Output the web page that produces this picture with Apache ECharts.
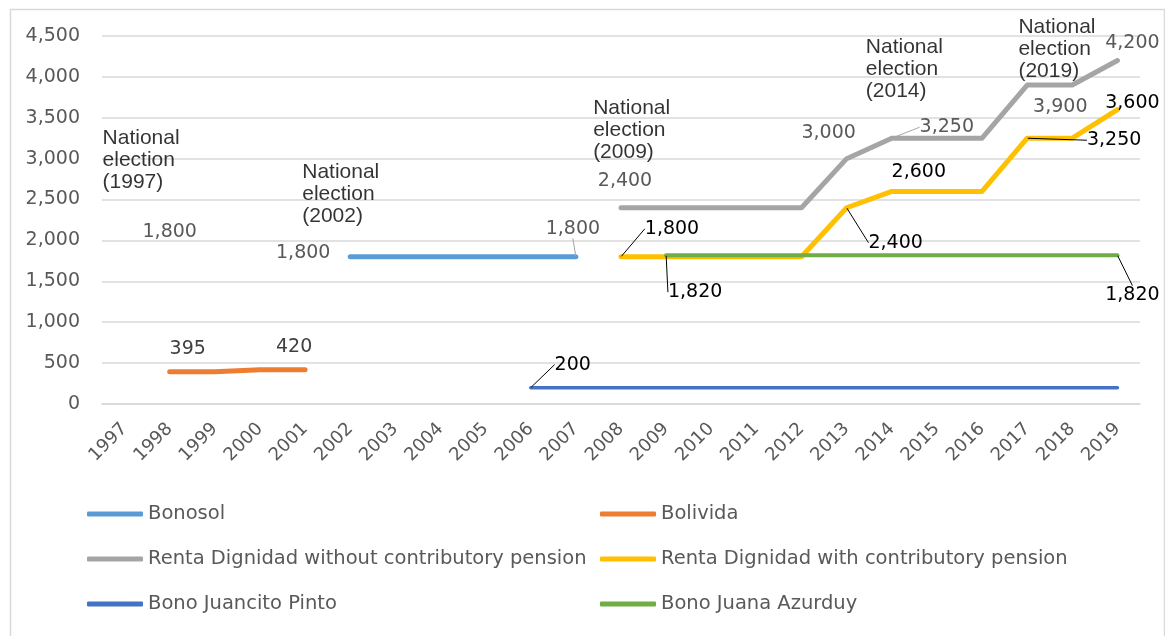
<!DOCTYPE html>
<html>
<head>
<meta charset="utf-8">
<script src="https://cdn.jsdelivr.net/npm/echarts@6/dist/echarts.min.js"></script>
<style>
  html, body { margin: 0; padding: 0; background: #fff; }
  #main { width: 1165px; height: 636px; }
</style>
</head>
<body>
<div id="main"></div>
<script>
// years on the x axis
var years = ['1997','1998','1999','2000','2001','2002','2003','2004','2005','2006','2007','2008',
             '2009','2010','2011','2012','2013','2014','2015','2016','2017','2018','2019'];

// series values (Bs per year), null where the programme did not exist
var bonosol      = [null,null,null,null,null,1800,1800,1800,1800,1800,1800,null,null,null,null,null,null,null,null,null,null,null,null];
var bolivida     = [null,395,395,420,420,null,null,null,null,null,null,null,null,null,null,null,null,null,null,null,null,null,null];
var rentaWithout = [null,null,null,null,null,null,null,null,null,null,null,2400,2400,2400,2400,2400,3000,3250,3250,3250,3900,3900,4200];
var rentaWith    = [null,null,null,null,null,null,null,null,null,null,null,1800,1800,1800,1800,1800,2400,2600,2600,2600,3250,3250,3600];
var juancito     = [null,null,null,null,null,null,null,null,null,200,200,200,200,200,200,200,200,200,200,200,200,200,200];
var juana        = [null,null,null,null,null,null,null,null,null,null,null,null,1820,1820,1820,1820,1820,1820,1820,1820,1820,1820,1820];

var seriesNames = ['Bonosol', 'Bolivida', 'Renta Dignidad without contributory pension',
                   'Renta Dignidad with contributory pension', 'Bono Juancito Pinto', 'Bono Juana Azurduy'];
var seriesValues = [bonosol, bolivida, rentaWithout, rentaWith, juancito, juana];

// election annotations
var electionYears  = ['1997', '2002', '2009', '2014', '2019'];
var electionLevels = [3380, 2965, 3748, 4500, 4500];

// lone "1,800" label drawn over 1998
var strayLabel = ['1998', 1800];

var GRAY = '#595959';
var BLACK = '#000000';
var colors = ['#5b9bd5', '#ed7d31', '#a5a5a5', '#ffc000', '#4472c4', '#70ad47'];
var widths = [5, 5, 5, 5, 3.5, 4];
var FONT = 'DejaVu Sans';

// where each data label sits (shift from its point), s = series, i = index
var labelSpecs = [
    {s: 1, i: 1,  dx: 18,  dy: -23, c: '#404040'},
    {s: 1, i: 4,  dx: -11, dy: -23, c: '#404040'},
    {s: 0, i: 5,  dx: -47, dy: -4,  c: GRAY},
    {s: 0, i: 10, dx: -3,  dy: -28, c: GRAY, line: true},
    {s: 4, i: 9,  dx: 42,  dy: -23, c: BLACK, line: true},
    {s: 2, i: 11, dx: 4,   dy: -27, c: GRAY},
    {s: 3, i: 11, dx: 51,  dy: -28, c: BLACK, line: true},
    {s: 5, i: 12, dx: 29,  dy: 37,  c: BLACK, line: true},
    {s: 2, i: 16, dx: -18, dy: -26, c: GRAY},
    {s: 2, i: 17, dx: 55,  dy: -11, c: GRAY, line: true},
    {s: 3, i: 17, dx: 27,  dy: -19, c: BLACK},
    {s: 3, i: 16, dx: 49,  dy: 35,  c: BLACK, line: true},
    {s: 2, i: 21, dx: -12, dy: 22,  c: GRAY},
    {s: 2, i: 22, dx: 15,  dy: -17, c: GRAY},
    {s: 3, i: 22, dx: 15,  dy: -7,  c: BLACK},
    {s: 3, i: 20, dx: 87,  dy: 2,   c: BLACK, line: true},
    {s: 5, i: 22, dx: 15,  dy: 40,  c: BLACK, line: true}
];

// offsets of the election texts (top-left corner from the point)
var electionOffsets = [[-22, 0], [-48, 0], [-73, 0], [-26, 0], [-99, -20]];

function fmt(v) {
    return Number(v).toLocaleString('en-US');
}

function findSpec(s, i) {
    for (var k = 0; k < labelSpecs.length; k++) {
        if (labelSpecs[k].s === s && labelSpecs[k].i === i) return labelSpecs[k];
    }
    return null;
}

function buildData(s) {
    var out = [];
    for (var i = 0; i < seriesValues[s].length; i++) {
        var item = {value: seriesValues[s][i]};
        var sp = findSpec(s, i);
        if (sp) {
            item.label = {
                show: true, position: 'inside',
                color: sp.c, fontFamily: FONT, fontSize: 19,
                formatter: function (p) { return fmt(p.value); }
            };
            item.labelLine = {show: !!sp.line, lineStyle: {color: sp.c === GRAY ? '#a6a6a6' : '#000', width: 1}};
        }
        out.push(item);
    }
    return out;
}

function layoutFor(s) {
    return function (params) {
        var sp = findSpec(s, params.dataIndex);
        return sp ? {dx: sp.dx, dy: sp.dy} : {};
    };
}

var series = [];
for (var s = 0; s < seriesNames.length; s++) {
    series.push({
        name: seriesNames[s],
        type: 'line',
        data: buildData(s),
        symbol: 'circle',
        symbolSize: 1,
        showSymbol: true,
        itemStyle: {color: colors[s]},
        lineStyle: {color: colors[s], width: widths[s], cap: 'round', join: 'round'},
        label: {show: false},
        labelLayout: layoutFor(s),
        emphasis: {disabled: true},
        z: 2 + s
    });
}

// stray 1,800 label on the Bonosol series
series[0].markPoint = {
    symbol: 'circle', symbolSize: 0, silent: true,
    data: [{coord: strayLabel, value: strayLabel[1]}],
    label: {show: true, position: 'inside', offset: [0, -25], color: GRAY, fontFamily: FONT, fontSize: 19,
            formatter: function (p) { return fmt(p.value); }}
};

// election notes
var electionData = [];
for (var e = 0; e < electionYears.length; e++) {
    electionData.push({
        value: [electionYears[e], electionLevels[e]],
        label: {offset: electionOffsets[e], formatter: 'National\nelection\n(' + electionYears[e] + ')'}
    });
}
series.push({
    name: 'elections',
    type: 'scatter',
    symbolSize: 0,
    clip: false,
    silent: true,
    data: electionData,
    label: {
        show: true, position: 'inside', align: 'left', verticalAlign: 'top',
        color: '#000', fontFamily: 'Liberation Sans', fontSize: 21, lineHeight: 22
    },
    z: 10
});

var legendText = {color: GRAY, fontFamily: FONT, fontSize: 19.5, lineHeight: 24};

var myChart = echarts.init(document.getElementById('main'));
myChart.setOption({
    animation: false,
    backgroundColor: '#fff',
    graphic: [{
        type: 'rect', left: 8, top: 7, silent: true,
        shape: {width: 1154, height: 660},
        style: {fill: 'none', stroke: '#d9d9d9', lineWidth: 1.5}
    }],
    grid: {left: 102, right: 25, top: 36, bottom: 232},
    legend: [{
        data: [seriesNames[0], seriesNames[2], seriesNames[4]],
        orient: 'vertical', left: 87, top: 502, padding: 0,
        icon: 'roundRect', itemWidth: 56, itemHeight: 5, itemGap: 21,
        textStyle: legendText
    }, {
        data: [seriesNames[1], seriesNames[3], seriesNames[5]],
        orient: 'vertical', left: 600, top: 502, padding: 0,
        icon: 'roundRect', itemWidth: 56, itemHeight: 5, itemGap: 21,
        textStyle: legendText
    }],
    xAxis: {
        type: 'category',
        data: years,
        axisLine: {lineStyle: {color: '#d9d9d9', width: 1.5}},
        axisTick: {show: false},
        axisLabel: {rotate: 45, color: GRAY, fontFamily: FONT, fontSize: 18, margin: 22, interval: 0}
    },
    yAxis: {
        type: 'value',
        min: 0, max: 4500, interval: 500,
        axisLine: {show: false},
        axisTick: {show: false},
        splitLine: {lineStyle: {color: '#d9d9d9', width: 1.5}},
        axisLabel: {color: GRAY, fontFamily: FONT, fontSize: 19, margin: 22, formatter: function (v) { return fmt(v); }}
    },
    series: series
});
</script>
</body>
</html>
